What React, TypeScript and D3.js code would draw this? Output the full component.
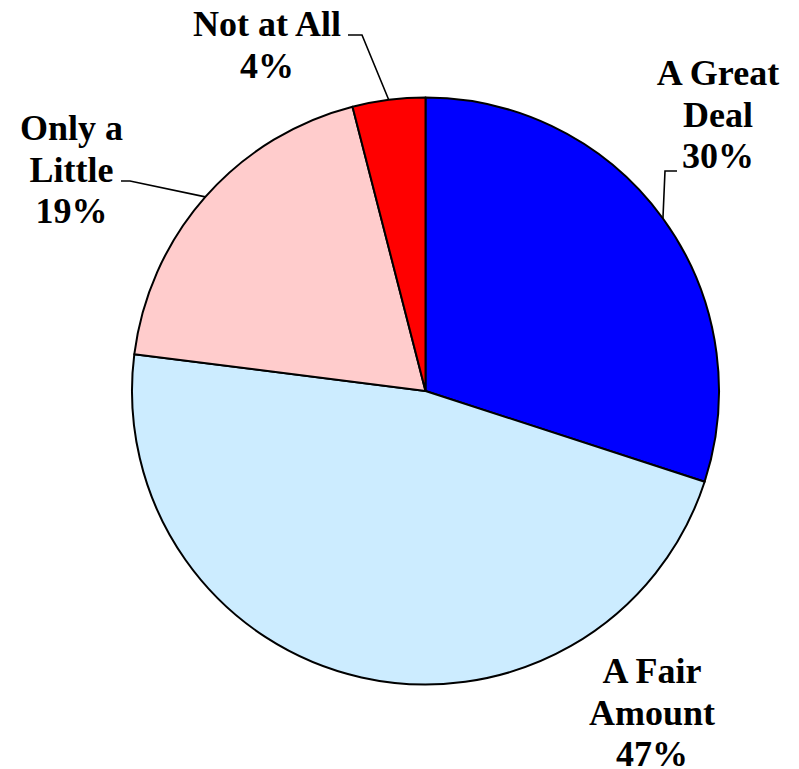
import React, { useEffect, useRef } from "react";
import * as d3 from "d3";

const categories = ["A Great Deal", "A Fair Amount", "Only a Little", "Not at All"];
const values = [30, 47, 19, 4];
const colors = ["#0000FF", "#CCECFF", "#FFCCCC", "#FF0000"];
const labelLines = [
  ["A Great", "Deal", "30%"],
  ["A Fair", "Amount", "47%"],
  ["Only a", "Little", "19%"],
  ["Not at All", "4%"],
];

// layout (positions only)
const W = 799;
const H = 769;
const CX = 425.5;
const CY = 391;
const R = 293.5;
const LINE_H = 41.5;
const labelLayout = [
  { x: 718, y: 85, leader: [[677, 171], [665, 171]] },
  { x: 652, y: 683, leader: null },
  { x: 71.5, y: 140, leader: [[121, 181], [130, 181]] },
  { x: 267, y: 36, leader: [[348, 35], [362, 35]] },
];

export default function App() {
  const ref = useRef<SVGSVGElement | null>(null);

  useEffect(() => {
    const svg = d3.select(ref.current);
    svg.selectAll("*").remove();
    const pie = d3.pie<number>().sort(null).value((d) => d);
    const arcs = pie(values);
    const arc = d3.arc<d3.PieArcDatum<number>>().innerRadius(0).outerRadius(R);

    svg
      .append("g")
      .attr("transform", `translate(${CX},${CY})`)
      .selectAll("path")
      .data(arcs)
      .join("path")
      .attr("d", (d) => arc(d) || "")
      .attr("fill", (_, i) => colors[i])
      .attr("stroke", "#000")
      .attr("stroke-width", 2)
      .attr("stroke-linejoin", "round")
      .append("title")
      .text((_, i) => categories[i]);

    arcs.forEach((a, i) => {
      const lay = labelLayout[i];
      if (!lay.leader) return;
      const mid = (a.startAngle + a.endAngle) / 2;
      const pts = [...lay.leader, [CX + R * Math.sin(mid), CY - R * Math.cos(mid)]];
      svg
        .append("polyline")
        .attr("points", pts.map((p) => p.join(",")).join(" "))
        .attr("fill", "none")
        .attr("stroke", "#000")
        .attr("stroke-width", 1.6);
    });

    labelLines.forEach((lines, i) => {
      lines.forEach((ln, j) => {
        svg
          .append("text")
          .attr("x", labelLayout[i].x)
          .attr("y", labelLayout[i].y + j * LINE_H)
          .attr("text-anchor", "middle")
          .style("font-family", "serif")
          .style("font-weight", "bold")
          .style("font-size", "36px")
          .text(ln);
      });
    });
  }, []);

  return <svg ref={ref} width={W} height={H} style={{ position: "absolute", left: 0, top: 0 }} />;
}
